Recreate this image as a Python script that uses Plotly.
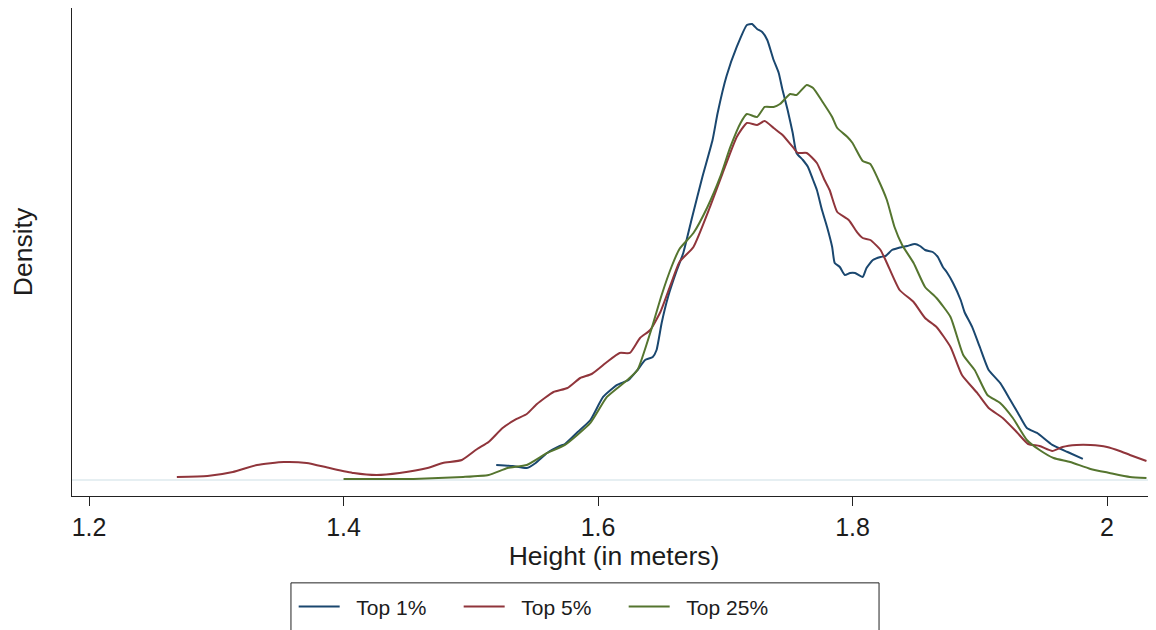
import plotly.graph_objects as go

# ---- data (height in meters, kernel density) ----
top1_height = [1.520, 1.533, 1.544, 1.551, 1.560, 1.570, 1.574, 1.584, 1.594, 1.604,
               1.615, 1.624, 1.631, 1.637, 1.643, 1.646, 1.650, 1.655, 1.662, 1.667,
               1.674, 1.682, 1.690, 1.694, 1.701, 1.709, 1.717, 1.721, 1.725, 1.729,
               1.733, 1.738, 1.742, 1.745, 1.749, 1.753, 1.756, 1.761, 1.765, 1.769,
               1.772, 1.776, 1.780, 1.784, 1.786, 1.790, 1.794, 1.798, 1.802, 1.808,
               1.811, 1.816, 1.822, 1.826, 1.831, 1.836, 1.843, 1.849, 1.853, 1.857,
               1.863, 1.867, 1.871, 1.874, 1.879, 1.885, 1.888, 1.894, 1.900, 1.907,
               1.916, 1.924, 1.930, 1.937, 1.945, 1.957, 1.969, 1.981]
top1_density = [0.188, 0.175, 0.150, 0.213, 0.338, 0.425, 0.450, 0.600, 0.750, 1.038,
                1.188, 1.250, 1.375, 1.500, 1.538, 1.625, 1.963, 2.288, 2.625, 2.838,
                3.288, 3.788, 4.250, 4.588, 5.050, 5.413, 5.688, 5.700, 5.638, 5.600,
                5.500, 5.250, 5.088, 4.875, 4.625, 4.338, 4.088, 4.000, 3.913, 3.750,
                3.625, 3.375, 3.163, 2.913, 2.713, 2.663, 2.563, 2.588, 2.588, 2.538,
                2.650, 2.750, 2.788, 2.800, 2.875, 2.900, 2.925, 2.950, 2.925, 2.875,
                2.850, 2.788, 2.663, 2.600, 2.463, 2.250, 2.100, 1.913, 1.663, 1.375,
                1.213, 1.000, 0.838, 0.650, 0.588, 0.438, 0.350, 0.263]

top5_height = [1.269, 1.293, 1.313, 1.332, 1.353, 1.371, 1.389, 1.408, 1.426, 1.444,
               1.466, 1.478, 1.493, 1.505, 1.514, 1.525, 1.536, 1.544, 1.552, 1.565,
               1.576, 1.586, 1.595, 1.607, 1.617, 1.625, 1.633, 1.641, 1.649, 1.657,
               1.664, 1.675, 1.688, 1.698, 1.709, 1.717, 1.725, 1.731, 1.738, 1.745,
               1.753, 1.757, 1.764, 1.772, 1.778, 1.782, 1.788, 1.797, 1.804, 1.808,
               1.814, 1.822, 1.827, 1.837, 1.848, 1.857, 1.866, 1.877, 1.886, 1.898,
               1.907, 1.918, 1.929, 1.938, 1.947, 1.957, 1.965, 1.976, 1.987, 2.000,
               2.010, 2.018, 2.031]
top5_density = [0.038, 0.050, 0.100, 0.188, 0.225, 0.213, 0.150, 0.088, 0.063, 0.088,
                0.150, 0.213, 0.250, 0.388, 0.475, 0.650, 0.763, 0.825, 0.950, 1.100,
                1.150, 1.275, 1.325, 1.475, 1.588, 1.588, 1.775, 1.875, 2.100, 2.438,
                2.725, 2.913, 3.413, 3.838, 4.288, 4.463, 4.438, 4.488, 4.400, 4.313,
                4.163, 4.088, 4.088, 3.963, 3.750, 3.625, 3.350, 3.250, 3.088, 3.025,
                3.000, 2.875, 2.713, 2.375, 2.225, 2.025, 1.913, 1.663, 1.313, 1.088,
                0.900, 0.775, 0.600, 0.450, 0.425, 0.363, 0.413, 0.438, 0.438, 0.413,
                0.363, 0.313, 0.238]

top25_height = [1.400, 1.429, 1.455, 1.494, 1.514, 1.529, 1.544, 1.560, 1.574, 1.594,
                1.607, 1.623, 1.631, 1.642, 1.650, 1.658, 1.664, 1.675, 1.686, 1.696,
                1.704, 1.712, 1.717, 1.725, 1.731, 1.738, 1.743, 1.751, 1.756, 1.764,
                1.769, 1.776, 1.784, 1.788, 1.796, 1.800, 1.808, 1.814, 1.820, 1.827,
                1.833, 1.839, 1.848, 1.857, 1.866, 1.877, 1.887, 1.896, 1.906, 1.916,
                1.926, 1.937, 1.947, 1.958, 1.971, 1.987, 2.002, 2.018, 2.031]
top25_density = [0.013, 0.013, 0.013, 0.038, 0.063, 0.150, 0.188, 0.338, 0.438, 0.713,
                 1.038, 1.250, 1.375, 1.888, 2.313, 2.675, 2.888, 3.088, 3.413, 3.788,
                 4.163, 4.463, 4.575, 4.538, 4.663, 4.663, 4.700, 4.825, 4.813, 4.938,
                 4.900, 4.738, 4.538, 4.400, 4.288, 4.213, 3.988, 3.950, 3.763, 3.500,
                 3.163, 2.938, 2.713, 2.413, 2.275, 2.038, 1.563, 1.375, 1.063, 0.963,
                 0.775, 0.500, 0.375, 0.275, 0.225, 0.138, 0.088, 0.038, 0.025]

series_names = ["Top 1%", "Top 5%", "Top 25%"]
series_colors = ["#1a476f", "#90353b", "#55752f"]

x_ticks = [1.2, 1.4, 1.6, 1.8, 2.0]
x_tick_labels = ["1.2", "1.4", "1.6", "1.8", "2"]

FONT = "Liberation Sans, Arial, Helvetica, sans-serif"
TXT = "#1c1c1c"
PAD = "\u00a0\u00a0"  # gap between legend key and its label

fig = go.Figure()
for xs, ys, name, col in zip(
        [top1_height, top5_height, top25_height],
        [top1_density, top5_density, top25_density],
        series_names, series_colors):
    fig.add_trace(go.Scatter(
        x=xs, y=ys, mode="lines", name=PAD + name,
        line=dict(color=col, width=2, shape="spline", smoothing=0.5),
    ))

# the page body adds an 8px margin, so the figure is sized to the visible area
fig.update_layout(
    width=1148, height=622,
    margin=dict(l=64, r=0, t=0, b=134, autoexpand=False),
    paper_bgcolor="white", plot_bgcolor="white",
    font=dict(family=FONT, size=24, color=TXT),
    showlegend=True,
    legend=dict(
        orientation="h", x=0.2045, xanchor="left", y=-0.185, yanchor="top",
        font=dict(family=FONT, size=21, color=TXT),
        borderwidth=0, bgcolor="rgba(0,0,0,0)",
        entrywidth=109, itemwidth=41,
    ),
    shapes=[dict(type="rect", xref="paper", yref="paper",
                 x0=0.2020, x1=0.7445, y0=-0.1780, y1=-0.30,
                 line=dict(color="#222", width=1), fillcolor="rgba(0,0,0,0)",
                 layer="below")],
)

fig.update_xaxes(
    range=[1.1866, 2.0385],
    tickvals=x_ticks, ticktext=x_tick_labels,
    ticks="outside", ticklen=9, tickwidth=1, tickcolor="#222",
    showline=True, linecolor="#222", linewidth=1,
    showgrid=False, zeroline=False,
    tickfont=dict(size=25),
    title=dict(text="Height (in meters)", font=dict(size=26.5), standoff=0),
)
fig.update_yaxes(
    range=[-0.2, 5.9],
    showticklabels=False, ticks="",
    showline=True, linecolor="#222", linewidth=1,
    showgrid=False,
    zeroline=True, zerolinecolor="#e6eff2", zerolinewidth=2,
    title=dict(text="Density", font=dict(size=26.5), standoff=30),
)

fig.write_html("out.html")
